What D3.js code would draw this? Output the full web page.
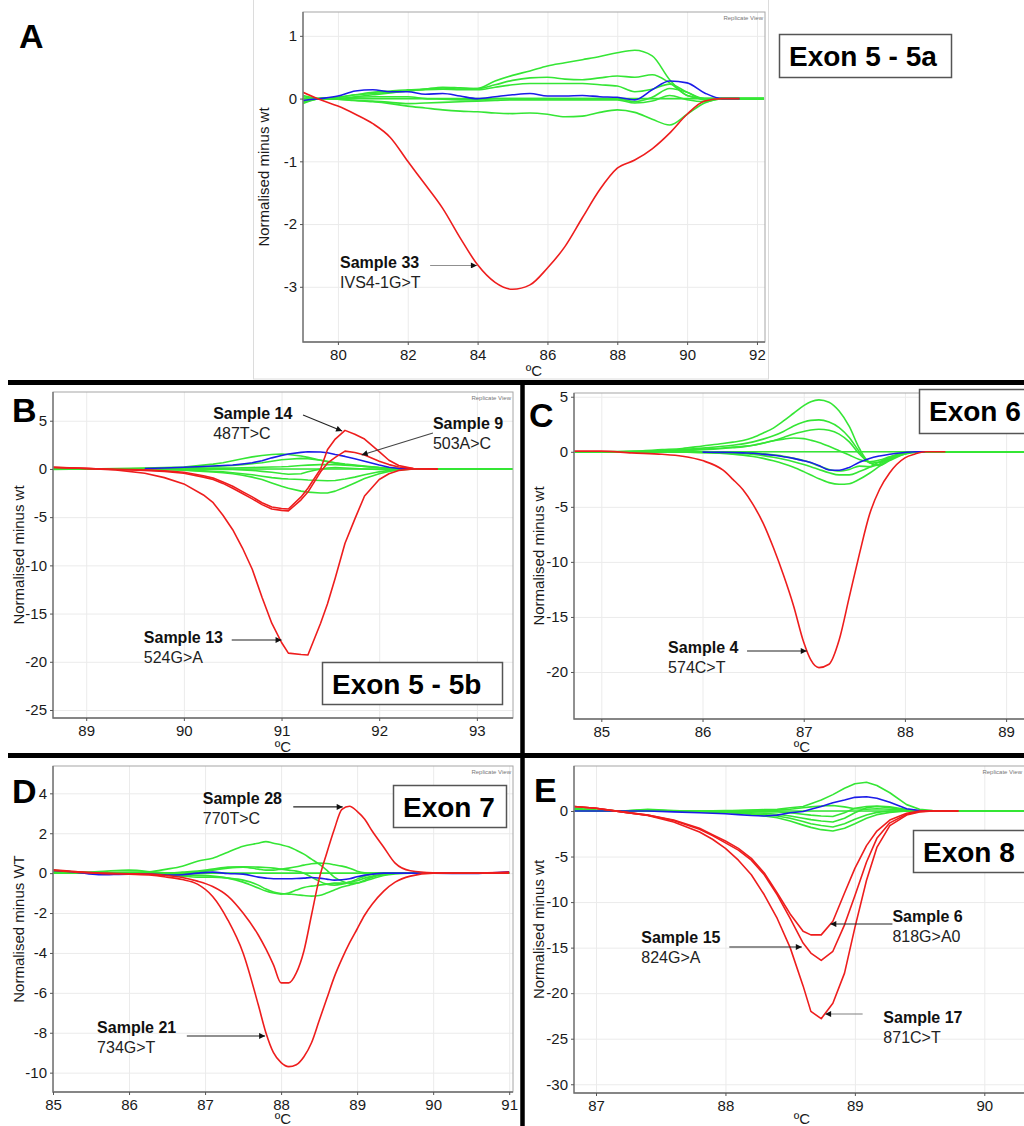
<!DOCTYPE html>
<html>
<head>
<meta charset="utf-8">
<script src="https://cdn.jsdelivr.net/npm/d3@7"></script>
<style>
  body { margin: 0; background: #fff; }
  svg { display: block; font-family: "Liberation Sans", Arial, sans-serif; }
  .ticks text { font-size: 15px; fill: #1a1a1a; }
  .ticks line { stroke: #555; }
  .grid line { stroke: #ebebeb; }
</style>
</head>
<body>
<svg id="fig" width="1024" height="1126"></svg>
<script>
// ---- panel A : exon 5 - 5a ----
const tempA = [79.0, 79.5, 80, 80.5, 81, 81.5, 82, 82.5, 83, 83.5, 84, 84.5, 85, 85.5, 86, 86.5, 87, 87.5, 88, 88.5, 89, 89.5, 90, 90.5, 91, 91.5, 92, 92.2];
const redA33 = [0.1, -0.02, -0.12, -0.25, -0.40, -0.62, -1.0, -1.37, -1.75, -2.22, -2.65, -2.93, -3.04, -2.97, -2.70, -2.36, -1.90, -1.45, -1.11, -0.98, -0.80, -0.55, -0.25, -0.04, 0, 0, null, null];
const blueA = [-0.03, 0, 0.04, 0.12, 0.14, 0.11, 0.11, 0.07, 0.08, 0.04, 0.0, 0.03, 0.06, 0.08, 0.04, 0.04, 0.05, 0.03, 0.02, -0.02, 0.14, 0.28, 0.25, 0.09, 0.0, 0, null, null];
const greenA1 = [-0.05, 0, 0.02, 0.06, 0.1, 0.12, 0.14, 0.15, 0.17, 0.15, 0.16, 0.28, 0.37, 0.44, 0.52, 0.57, 0.62, 0.67, 0.73, 0.77, 0.68, 0.3, 0.05, 0, 0, 0, 0, 0];
const greenA2 = [0.05, 0, 0.02, 0.06, 0.08, 0.1, 0.12, 0.15, 0.18, 0.17, 0.16, 0.22, 0.29, 0.33, 0.34, 0.31, 0.30, 0.33, 0.36, 0.34, 0.38, 0.25, 0.05, 0, 0, 0, 0, 0];
const greenA3 = [-0.08, 0, 0, 0.03, 0.06, 0.09, 0.12, 0.14, 0.15, 0.14, 0.14, 0.18, 0.22, 0.24, 0.24, 0.24, 0.24, 0.22, 0.2, 0.11, 0.15, 0.23, 0.1, 0, 0, 0, 0, 0];
const greenA4 = [0.03, 0, 0, 0.02, 0.03, 0.03, 0.03, 0, -0.01, -0.02, -0.02, 0, 0, 0, 0, 0, 0, 0, 0, -0.05, 0.02, 0.16, 0.1, -0.02, 0, 0, 0, 0];
const greenA5 = [-0.06, 0, -0.01, -0.03, -0.04, -0.06, -0.08, -0.07, -0.06, -0.05, -0.04, -0.03, -0.02, -0.02, -0.02, -0.02, -0.02, -0.02, -0.02, -0.07, -0.04, 0.05, -0.02, -0.05, 0, 0, 0, 0];
const greenA6 = [0, 0, -0.01, -0.03, -0.05, -0.08, -0.12, -0.15, -0.18, -0.2, -0.21, -0.23, -0.24, -0.23, -0.25, -0.29, -0.28, -0.22, -0.18, -0.22, -0.33, -0.42, -0.25, -0.07, 0, 0, 0, 0];
const flatA = [0, 0, 0, 0, 0, 0, 0, 0, 0, 0, 0, 0, 0, 0, 0, 0, 0, 0, 0, 0, 0, 0, 0, 0, 0, 0, 0, 0];
const xTicksA = [80, 82, 84, 86, 88, 90, 92];
const yTicksA = [1, 0, -1, -2, -3];

// ---- panel B : exon 5 - 5b ----
const tempB = [88.66, 89.0, 89.3, 89.6, 89.8, 90.0, 90.2, 90.3, 90.4, 90.5, 90.6, 90.7, 90.8, 90.9, 91.0, 91.07, 91.2, 91.27, 91.4, 91.47, 91.55, 91.65, 91.75, 91.85, 92.0, 92.1, 92.2, 92.35, 92.6, 93.0, 93.37];
const redB13 = [0.17, 0.06, -0.1, -0.45, -0.9, -1.55, -2.7, -3.5, -4.8, -6.3, -8.2, -10.4, -13.3, -16.0, -18.0, -19.1, -19.25, -19.3, -16.0, -14.0, -11.3, -7.7, -5.2, -2.8, -1.1, -0.5, -0.15, 0, 0, null, null];
const redB14 = [0.17, 0.05, -0.03, -0.1, -0.18, -0.35, -0.7, -0.95, -1.35, -1.8, -2.35, -2.9, -3.5, -3.95, -4.1, -4.15, -2.9, -2.0, 0.0, 2.0, 3.1, 4.0, 3.6, 3.1, 1.8, 0.9, 0.35, 0.05, 0, null, null];
const redB9 = [0.15, 0.05, -0.05, -0.15, -0.25, -0.45, -0.85, -1.1, -1.5, -2.0, -2.55, -3.1, -3.7, -4.15, -4.3, -4.35, -3.2, -2.4, -0.3, 0.6, 1.2, 1.85, 1.7, 1.45, 0.8, 0.45, 0.2, 0.03, 0, null, null];
const blueB = [null, null, null, 0.05, 0.1, 0.17, 0.25, 0.3, 0.35, 0.41, 0.52, 0.65, 0.85, 1.15, 1.4, 1.55, 1.72, 1.78, 1.75, 1.68, 1.5, 1.3, 1.05, 0.8, 0.4, 0.17, 0.05, 0, null, null, null];
const greenB1 = [-0.05, 0, 0.05, 0.1, 0.15, 0.2, 0.4, 0.5, 0.65, 0.85, 1.05, 1.25, 1.4, 1.5, 1.55, 1.5, 1.35, 1.2, 0.9, 0.75, 0.6, 0.45, 0.35, 0.25, 0.15, 0.08, 0.03, 0, 0, 0, 0];
const greenB2 = [0, 0, 0, 0.05, 0.08, 0.1, 0.2, 0.25, 0.3, 0.35, 0.45, 0.55, 0.65, 0.8, 0.95, 1.0, 1.1, 1.05, 0.9, 0.8, 0.65, 0.5, 0.4, 0.3, 0.15, 0.08, 0.03, 0, 0, 0, 0];
const greenB3 = [0, 0, 0, 0, 0.02, 0.05, 0.07, 0.08, 0.09, 0.1, 0.12, 0.15, 0.17, 0.2, 0.22, 0.25, 0.35, 0.4, 0.45, 0.45, 0.45, 0.4, 0.33, 0.25, 0.12, 0.07, 0.03, 0, 0, 0, 0];
const greenB4 = [0, 0, 0, 0, 0, 0, -0.02, -0.03, -0.04, -0.05, -0.1, -0.15, -0.25, -0.35, -0.48, -0.55, -0.5, -0.3, 0.0, 0.1, 0.15, 0.1, 0.05, 0.0, -0.05, -0.03, 0, 0, 0, 0, 0];
const greenB5 = [0, 0, 0, -0.02, -0.05, -0.1, -0.2, -0.25, -0.3, -0.4, -0.5, -0.6, -0.75, -0.9, -1.0, -1.05, -1.1, -1.15, -1.2, -1.22, -1.2, -1.05, -0.85, -0.6, -0.3, -0.15, -0.05, 0, 0, 0, 0];
const greenB6 = [0, 0, 0, -0.02, -0.05, -0.12, -0.25, -0.32, -0.4, -0.5, -0.65, -0.85, -1.1, -1.45, -1.8, -2.0, -2.3, -2.4, -2.5, -2.5, -2.3, -1.9, -1.45, -1.0, -0.5, -0.25, -0.1, 0, 0, 0, 0];
const flatB = [0, 0, 0, 0, 0, 0, 0, 0, 0, 0, 0, 0, 0, 0, 0, 0, 0, 0, 0, 0, 0, 0, 0, 0, 0, 0, 0, 0, 0, 0, 0];
const xTicksB = [89, 90, 91, 92, 93];
const yTicksB = [5, 0, -5, -10, -15, -20, -25];

// ---- panel C : exon 6 ----
const tempC = [84.73, 85.0, 85.3, 85.6, 85.8, 86.0, 86.2, 86.3, 86.4, 86.5, 86.6, 86.7, 86.8, 86.9, 87.0, 87.07, 87.15, 87.25, 87.35, 87.45, 87.55, 87.65, 87.75, 87.85, 88.0, 88.1, 88.2, 88.4, 88.7, 89.24];
const redC4 = [0.06, 0.06, -0.1, -0.22, -0.4, -0.8, -1.65, -2.5, -3.45, -4.8, -6.5, -8.7, -11.2, -14.0, -17.3, -18.9, -19.6, -19.3, -17.1, -13.2, -9.3, -5.7, -3.4, -1.9, -0.55, -0.2, 0, 0, null, null];
const blueC = [null, null, null, null, null, -0.03, -0.05, -0.07, -0.1, -0.13, -0.22, -0.32, -0.45, -0.6, -0.82, -0.98, -1.25, -1.65, -1.68, -1.42, -0.95, -0.6, -0.38, -0.22, -0.06, 0, 0, null, null, null];
const greenC1 = [0, 0, 0.05, 0.2, 0.3, 0.53, 0.75, 0.88, 1.02, 1.3, 1.7, 2.15, 2.8, 3.5, 4.2, 4.55, 4.72, 4.5, 3.7, 2.3, 0.3, -0.9, -0.95, -0.5, -0.08, 0, 0, 0, 0, 0];
const greenC2 = [0, 0, 0.03, 0.1, 0.2, 0.33, 0.5, 0.6, 0.72, 0.9, 1.15, 1.45, 1.85, 2.35, 2.7, 2.85, 2.9, 2.7, 2.2, 1.3, 0.0, -1.0, -1.2, -0.7, -0.15, 0, 0, 0, 0, 0];
const greenC3 = [0, 0, 0.02, 0.08, 0.15, 0.25, 0.35, 0.42, 0.5, 0.6, 0.78, 1.0, 1.3, 1.62, 1.85, 1.98, 2.05, 1.95, 1.6, 0.9, -0.2, -1.0, -1.25, -0.8, -0.2, 0, 0, 0, 0, 0];
const greenC4 = [0, 0, 0.02, 0.05, 0.1, 0.18, 0.3, 0.38, 0.45, 0.6, 0.8, 1.0, 1.15, 1.25, 1.2, 1.05, 0.85, 0.5, 0.1, -0.3, -0.7, -0.9, -0.75, -0.45, -0.12, 0, 0, 0, 0, 0];
const greenC5 = [0, 0, 0, 0, -0.02, -0.05, -0.1, -0.14, -0.18, -0.25, -0.35, -0.5, -0.68, -0.9, -1.15, -1.35, -1.6, -1.9, -2.1, -2.1, -1.8, -1.4, -0.9, -0.5, -0.15, 0, 0, 0, 0, 0];
const greenC6 = [0, 0, 0, -0.02, -0.04, -0.08, -0.15, -0.22, -0.3, -0.42, -0.6, -0.82, -1.08, -1.4, -1.8, -2.1, -2.45, -2.8, -2.95, -2.9, -2.5, -1.95, -1.3, -0.7, -0.2, -0.05, 0, 0, 0, 0];
const greenC7 = [0, 0, 0, 0, 0, -0.02, -0.04, -0.06, -0.08, -0.1, -0.18, -0.28, -0.4, -0.6, -0.8, -1.0, -1.3, -1.6, -1.75, -1.6, -1.3, -1.35, -1.1, -0.6, -0.15, 0, 0, 0, 0, 0];
const flatC = [0, 0, 0, 0, 0, 0, 0, 0, 0, 0, 0, 0, 0, 0, 0, 0, 0, 0, 0, 0, 0, 0, 0, 0, 0, 0, 0, 0, 0, 0];
const xTicksC = [85, 86, 87, 88, 89];
const yTicksC = [5, 0, -5, -10, -15, -20];

// ---- panel D : exon 7 ----
const tempD = [85.0, 85.3, 85.6, 86.0, 86.3, 86.5, 86.7, 86.9, 87.1, 87.3, 87.5, 87.7, 87.8, 87.9, 88.0, 88.1, 88.2, 88.3, 88.4, 88.5, 88.6, 88.7, 88.8, 88.9, 89.0, 89.1, 89.2, 89.35, 89.5, 89.7, 90.0, 90.5, 91.0];
const redD21 = [0.17, 0.08, 0.0, -0.05, -0.1, -0.2, -0.32, -0.55, -1.17, -2.35, -4.0, -6.6, -8.0, -9.0, -9.5, -9.7, -9.6, -9.2, -8.5, -7.4, -6.3, -5.2, -4.3, -3.5, -2.8, -2.1, -1.55, -0.9, -0.45, -0.15, 0, 0, 0];
const redD28 = [0.13, 0.05, 0.0, -0.03, -0.05, -0.12, -0.22, -0.4, -0.67, -1.15, -2.0, -3.1, -3.8, -4.6, -5.5, -5.5, -5.0, -3.9, -2.1, -0.3, 1.0, 2.2, 3.2, 3.35, 3.1, 2.7, 2.1, 1.3, 0.5, 0.12, 0.02, 0, 0.05];
const blueD = [0.13, 0.05, -0.08, -0.05, -0.05, -0.1, -0.08, 0.0, 0.05, -0.02, -0.05, -0.2, -0.25, -0.28, -0.28, -0.28, -0.27, -0.25, -0.22, -0.25, -0.3, -0.35, -0.33, -0.28, -0.18, -0.1, -0.05, 0, 0, 0, 0, -0.02, 0.07];
const greenD1 = [0.1, 0.05, 0, 0, 0.08, 0.2, 0.35, 0.6, 0.75, 1.05, 1.35, 1.5, 1.58, 1.5, 1.42, 1.32, 1.15, 0.95, 0.7, 0.45, 0.15, -0.2, -0.4, -0.5, -0.5, -0.4, -0.28, -0.12, -0.04, 0, 0, 0, 0];
const greenD2 = [0.1, 0, 0, 0.05, 0.05, 0.02, 0, 0.05, 0.15, 0.25, 0.3, 0.2, 0.15, 0.15, 0.2, 0.25, 0.32, 0.4, 0.47, 0.5, 0.48, 0.42, 0.35, 0.25, 0.1, 0.02, 0, 0, 0, 0, 0, 0, 0];
const greenD3 = [0.15, 0.05, 0.08, 0.15, 0.05, -0.05, -0.1, -0.1, -0.15, -0.25, -0.45, -0.75, -0.9, -1.0, -1.05, -1.0, -0.85, -0.72, -0.65, -0.6, -0.55, -0.5, -0.5, -0.45, -0.38, -0.25, -0.15, -0.05, 0, 0, 0, 0, 0];
const greenD4 = [0.1, 0.05, 0, -0.02, -0.05, -0.1, -0.15, -0.2, -0.2, -0.25, -0.35, -0.6, -0.8, -0.95, -1.02, -1.05, -1.08, -1.12, -1.15, -1.12, -1.0, -0.85, -0.7, -0.6, -0.5, -0.35, -0.2, -0.08, 0, 0, 0, 0, 0];
const greenD5 = [0.05, 0, 0, 0, 0, 0, 0.05, 0.1, 0.2, 0.3, 0.32, 0.3, 0.28, 0.25, 0.2, 0.15, 0.1, 0.0, -0.2, -0.4, -0.55, -0.6, -0.55, -0.45, -0.3, -0.15, -0.05, 0, 0, 0, 0, 0, 0];
const flatD = [0, 0, 0, 0, 0, 0, 0, 0, 0, 0, 0, 0, 0, 0, 0, 0, 0, 0, 0, 0, 0, 0, 0, 0, 0, 0, 0, 0, 0, 0, 0, 0, 0];
const xTicksD = [85, 86, 87, 88, 89, 90, 91];
const yTicksD = [4, 2, 0, -2, -4, -6, -8, -10];

// ---- panel E : exon 8 ----
const tempE = [86.83, 87.0, 87.2, 87.4, 87.6, 87.8, 87.9, 88.0, 88.1, 88.2, 88.3, 88.4, 88.5, 88.6, 88.66, 88.74, 88.83, 88.92, 89.0, 89.09, 89.17, 89.27, 89.4, 89.5, 89.6, 89.8, 90.0, 90.36];
const redE17 = [0.5, 0.3, -0.1, -0.5, -1.2, -2.3, -3.1, -4.1, -5.4, -7.0, -9.2, -11.8, -15.0, -19.2, -22.0, -22.8, -21.1, -17.8, -12.8, -7.6, -4.0, -1.6, -0.45, -0.1, 0, 0, null, null];
const redE15 = [0.5, 0.3, -0.1, -0.45, -1.05, -2.0, -2.7, -3.5, -4.3, -5.4, -7.0, -9.2, -11.8, -14.5, -15.6, -16.4, -15.4, -12.5, -9.3, -5.6, -3.0, -1.3, -0.35, -0.05, 0, 0, null, null];
const redE6 = [0.5, 0.3, -0.1, -0.45, -1.0, -1.9, -2.6, -3.3, -4.1, -5.2, -6.8, -9.0, -11.3, -13.2, -13.6, -13.6, -12.1, -9.0, -6.3, -3.8, -2.2, -1.0, -0.25, 0, 0, 0, null, null];
const blueE = [0, 0, 0, 0, -0.1, -0.2, -0.25, -0.3, -0.4, -0.5, -0.55, -0.45, -0.2, -0.05, 0.2, 0.5, 0.9, 1.2, 1.5, 1.57, 1.4, 0.95, 0.25, 0.05, 0, null, null, null];
const greenE1 = [0.3, 0.1, 0, 0.2, 0.05, -0.05, 0, 0, 0.05, 0.1, 0.15, 0.2, 0.35, 0.5, 0.8, 1.2, 1.8, 2.5, 3.0, 3.15, 2.8, 2.0, 0.7, 0.2, 0.05, 0, 0, 0];
const greenE2 = [0.3, 0.1, 0, 0.1, 0, -0.05, -0.1, -0.15, -0.25, -0.35, -0.55, -0.75, -1.1, -1.55, -1.8, -2.05, -2.2, -1.9, -1.4, -0.8, -0.4, -0.15, 0, 0, 0, 0, 0, 0];
const greenE3 = [0.2, 0.05, 0, 0.1, 0, -0.05, -0.1, -0.12, -0.2, -0.3, -0.4, -0.55, -0.8, -1.15, -1.4, -1.6, -1.75, -1.4, -0.9, -0.45, -0.15, 0, 0, 0, 0, 0, 0, 0];
const greenE4 = [0.2, 0.05, 0, 0.05, 0, -0.05, -0.08, -0.1, -0.15, -0.2, -0.25, -0.35, -0.55, -0.8, -0.95, -1.1, -1.2, -0.8, -0.2, 0.35, 0.5, 0.35, 0.1, 0, 0, 0, 0, 0];
const greenE5 = [0.1, 0, 0, 0.05, 0, 0, -0.02, -0.04, -0.06, -0.08, -0.1, -0.1, -0.2, -0.35, -0.45, -0.55, -0.6, -0.2, 0.3, 0.5, 0.55, 0.45, 0.15, 0, 0, 0, 0, 0];
const greenE6 = [0.1, 0, 0, 0.05, 0, 0, 0.02, 0.04, 0.06, 0.08, 0.1, 0.1, 0.2, 0.35, 0.45, 0.55, 0.6, 0.45, 0.25, 0.2, 0.25, 0.2, 0.05, 0, 0, 0, 0, 0];
const flatE = [0, 0, 0, 0, 0, 0, 0, 0, 0, 0, 0, 0, 0, 0, 0, 0, 0, 0, 0, 0, 0, 0, 0, 0, 0, 0, 0, 0];
const xTicksE = [87, 88, 89, 90];
const yTicksE = [0, -5, -10, -15, -20, -25, -30];

// annotation text + where the arrows sit (in data units of each panel)
const notesA = [{bold: 'Sample 33', sub: 'IVS4-1G>T', at: [80.06, -2.70], from: [82.64, -2.66], to: [83.98, -2.66], stroke: '#909090'}];
const notesB = [
  {bold: 'Sample 14', sub: '487T>C', at: [90.30, 5.18], from: [91.22, 5.60], to: [91.62, 3.94], stroke: '#222'},
  {bold: 'Sample 9', sub: '503A>C', at: [92.55, 4.14], from: [92.55, 3.73], to: [91.82, 1.45], stroke: '#444'},
  {bold: 'Sample 13', sub: '524G>A', at: [89.59, -18.05], from: [90.49, -17.74], to: [91.00, -17.74], stroke: '#222'}
];
const notesC = [{bold: 'Sample 4', sub: '574C>T', at: [85.66, -18.28], from: [86.44, -18.09], to: [87.03, -18.09], stroke: '#222'}];
const notesD = [
  {bold: 'Sample 28', sub: '770T>C', at: [86.97, 3.47], from: [88.16, 3.32], to: [88.81, 3.32], stroke: '#222'},
  {bold: 'Sample 21', sub: '734G>T', at: [85.58, -8.01], from: [86.76, -8.16], to: [87.79, -8.16], stroke: '#222'}
];
const notesE = [
  {bold: 'Sample 6', sub: '818G>A0', at: [89.29, -12.19], from: [89.29, -12.41], to: [88.81, -12.41], stroke: '#222'},
  {bold: 'Sample 15', sub: '824G>A', at: [87.35, -14.49], from: [88.03, -14.93], to: [88.59, -14.93], stroke: '#222'},
  {bold: 'Sample 17', sub: '871C>T', at: [89.22, -23.28], from: [89.06, -22.29], to: [88.77, -22.29], stroke: '#808080'}
];

const RED = '#ee1d1d', GREEN = '#35e635', BLUE = '#1c1ce8';

const panels = [
  {id: 'A', temps: tempA, reds: [redA33], blue: blueA,
   greens: [flatA, greenA1, greenA2, greenA3, greenA4, greenA5, greenA6],
   xDomain: [79.0, 92.23], yDomain: [-3.88, 1.38], xTicks: xTicksA, yTicks: yTicksA,
   frame: {l: 303, t: 12, r: 765, b: 342}, curve: d3.curveMonotoneX, tag: true,
   yTitle: 'Normalised minus wt', yTitleX: 263, xTitleY: 376, letter: [19, 48],
   exon: {text: 'Exon 5 - 5a', x: 779, y: 34, w: 172, h: 43}, notes: notesA},
  {id: 'B', temps: tempB, reds: [redB13, redB9, redB14], blue: blueB,
   greens: [flatB, greenB1, greenB2, greenB3, greenB4, greenB5, greenB6],
   xDomain: [88.66, 93.37], yDomain: [-25.83, 7.98], xTicks: xTicksB, yTicks: yTicksB,
   frame: {l: 53, t: 392, r: 513, b: 718}, curve: d3.curveLinear, tag: true,
   yTitle: 'Normalised minus wt', yTitleX: 18, xTitleY: 752, letter: [12, 422],
   exon: {text: 'Exon 5 - 5b', x: 322, y: 662, w: 180, h: 42}, notes: notesB},
  {id: 'C', temps: tempC, reds: [redC4], blue: blueC,
   greens: [flatC, greenC1, greenC2, greenC3, greenC4, greenC5, greenC6, greenC7],
   xDomain: [84.73, 89.236], yDomain: [-24.27, 5.34], xTicks: xTicksC, yTicks: yTicksC,
   frame: {l: 574, t: 393, r: 1030, b: 719}, curve: d3.curveMonotoneX, tag: false,
   yTitle: 'Normalised minus wt', yTitleX: 538, xTitleY: 752, letter: [529, 427],
   exon: {text: 'Exon 6', x: 919, y: 389, w: 130, h: 44}, notes: notesC},
  {id: 'D', temps: tempD, reds: [redD21, redD28], blue: blueD,
   greens: [flatD, greenD1, greenD2, greenD3, greenD4, greenD5],
   xDomain: [85.0, 91.05], yDomain: [-10.97, 5.37], xTicks: xTicksD, yTicks: yTicksD,
   frame: {l: 53, t: 766, r: 513, b: 1092}, curve: d3.curveMonotoneX, tag: true,
   yTitle: 'Normalised minus WT', yTitleX: 18, xTitleY: 1124, letter: [12, 803],
   exon: {text: 'Exon 7', x: 393, y: 785, w: 113, h: 42}, notes: notesD},
  {id: 'E', temps: tempE, reds: [redE17, redE15, redE6], blue: blueE,
   greens: [flatE, greenE1, greenE2, greenE3, greenE4, greenE5, greenE6],
   xDomain: [86.83, 90.353], yDomain: [-30.96, 4.94], xTicks: xTicksE, yTicks: yTicksE,
   frame: {l: 574, t: 766, r: 1030, b: 1093}, curve: d3.curveLinear, tag: true,
   yTitle: 'Normalised minus wt', yTitleX: 538, xTitleY: 1124, letter: [534, 802],
   exon: {text: 'Exon 8', x: 913, y: 830, w: 130, h: 42}, notes: notesE}
];

const svg = d3.select('#fig');
const defs = svg.append('defs');
defs.append('marker')
    .attr('id', 'head')
    .attr('viewBox', '0 0 10 10')
    .attr('refX', 10).attr('refY', 5)
    .attr('markerWidth', 7).attr('markerHeight', 6)
    .attr('markerUnits', 'userSpaceOnUse')
    .attr('orient', 'auto')
  .append('path')
    .attr('d', 'M0,0 L10,5 L0,10 z')
    .attr('fill', '#111');

// faint outline around panel A
svg.append('rect')
    .attr('x', 253.5).attr('y', -1).attr('width', 515).attr('height', 380)
    .attr('fill', 'none').attr('stroke', '#dcdcdc');

const tickText = d => String(d);   // plain hyphen minus, like the original software

panels.forEach(p => {
    const f = p.frame;
    const x = d3.scaleLinear().domain(p.xDomain).range([f.l, f.r]);
    const y = d3.scaleLinear().domain(p.yDomain).range([f.b, f.t]);
    const g = svg.append('g').attr('class', 'panel-' + p.id);

    // gridlines
    g.append('g').attr('class', 'grid')
        .attr('transform', `translate(0, ${f.b})`)
        .call(d3.axisBottom(x).tickValues(p.xTicks).tickSize(-(f.b - f.t)).tickFormat(''))
        .call(s => s.select('.domain').remove());
    g.append('g').attr('class', 'grid')
        .attr('transform', `translate(${f.l}, 0)`)
        .call(d3.axisLeft(y).tickValues(p.yTicks).tickSize(-(f.r - f.l)).tickFormat(''))
        .call(s => s.select('.domain').remove());

    // traces, clipped to the frame
    defs.append('clipPath').attr('id', 'clip' + p.id)
      .append('rect').attr('x', f.l).attr('y', f.t).attr('width', f.r - f.l).attr('height', f.b - f.t);
    const line = d3.line()
        .defined(d => d[1] !== null)
        .x(d => x(d[0]))
        .y(d => y(d[1]))
        .curve(p.curve);
    const traces = [];
    p.greens.forEach(v => traces.push({v, c: GREEN}));
    traces.push({v: p.blue, c: BLUE});
    p.reds.forEach(v => traces.push({v, c: RED}));
    g.append('g').attr('clip-path', `url(#clip${p.id})`)
      .selectAll('path').data(traces).enter()
      .append('path')
        .attr('d', t => line(p.temps.map((tt, i) => [tt, t.v[i]])))
        .attr('fill', 'none')
        .attr('stroke', t => t.c)
        .attr('stroke-width', 1.6)
        .attr('stroke-linejoin', 'round');

    // frame
    g.append('rect')
        .attr('x', f.l).attr('y', f.t).attr('width', f.r - f.l).attr('height', f.b - f.t)
        .attr('fill', 'none').attr('stroke', '#a6a6a6');
    g.append('path')
        .attr('d', `M${f.l},${f.t}V${f.b}H${f.r}`)
        .attr('fill', 'none').attr('stroke', '#6e6e6e').attr('stroke-width', 1.3);

    // axes
    g.append('g').attr('class', 'ticks')
        .attr('transform', `translate(0, ${f.b})`)
        .call(d3.axisBottom(x).tickValues(p.xTicks).tickSize(3).tickPadding(4).tickFormat(tickText))
        .call(s => s.select('.domain').remove());
    g.append('g').attr('class', 'ticks')
        .attr('transform', `translate(${f.l}, 0)`)
        .call(d3.axisLeft(y).tickValues(p.yTicks).tickSize(3).tickPadding(3).tickFormat(tickText))
        .call(s => s.select('.domain').remove());

    // tiny "Replicate View" tag
    if (p.tag) {
        g.append('text')
            .attr('x', Math.min(f.r - 2, 1022)).attr('y', f.t + 8)
            .attr('text-anchor', 'end')
            .style('font-size', '6px').style('fill', '#777')
            .text('Replicate View');
    }

    // axis titles
    g.append('text')
        .attr('transform', `translate(${p.yTitleX}, ${(f.t + f.b) / 2}) rotate(-90)`)
        .attr('text-anchor', 'middle').attr('dominant-baseline', 'central')
        .style('font-size', '15px').style('fill', '#1a1a1a')
        .text(p.yTitle);
    g.append('text')
        .attr('x', (f.l + f.r) / 2).attr('y', p.xTitleY)
        .attr('text-anchor', 'middle')
        .style('font-size', '15px').style('fill', '#1a1a1a')
        .text('ºC');

    // sample annotations
    const n = g.append('g').selectAll('g').data(p.notes).enter().append('g');
    n.append('line')
        .attr('x1', d => x(d.from[0])).attr('y1', d => y(d.from[1]))
        .attr('x2', d => x(d.to[0])).attr('y2', d => y(d.to[1]))
        .attr('stroke', d => d.stroke).attr('stroke-width', 1.1)
        .attr('marker-end', 'url(#head)');
    n.append('text')
        .attr('x', d => x(d.at[0])).attr('y', d => y(d.at[1]))
        .style('font-size', '16px').style('font-weight', 'bold').style('fill', '#111')
        .text(d => d.bold);
    n.append('text')
        .attr('x', d => x(d.at[0])).attr('y', d => y(d.at[1]) + 20)
        .style('font-size', '16px').style('fill', '#222')
        .text(d => d.sub);

    // exon box
    const e = p.exon;
    g.append('rect')
        .attr('x', e.x + 0.5).attr('y', e.y + 0.5).attr('width', e.w).attr('height', e.h)
        .attr('fill', '#fff').attr('stroke', '#555').attr('stroke-width', 1.5);
    g.append('text')
        .attr('x', e.x + 10).attr('y', e.y + 32)
        .style('font-size', '28px').style('font-weight', 'bold').style('fill', '#000')
        .text(e.text);

    // panel letter
    svg.append('text')
        .attr('x', p.letter[0]).attr('y', p.letter[1])
        .style('font-size', '34px').style('font-weight', 'bold').style('fill', '#000')
        .text(p.id);
});

// thick black dividers between panels
svg.append('line').attr('x1', 8).attr('x2', 1024).attr('y1', 382.5).attr('y2', 382.5)
    .attr('stroke', '#000').attr('stroke-width', 5);
svg.append('line').attr('x1', 8).attr('x2', 1024).attr('y1', 755.5).attr('y2', 755.5)
    .attr('stroke', '#000').attr('stroke-width', 5);
svg.append('line').attr('x1', 522.5).attr('x2', 522.5).attr('y1', 382).attr('y2', 1126)
    .attr('stroke', '#000').attr('stroke-width', 4.5);
</script>
</body>
</html>
